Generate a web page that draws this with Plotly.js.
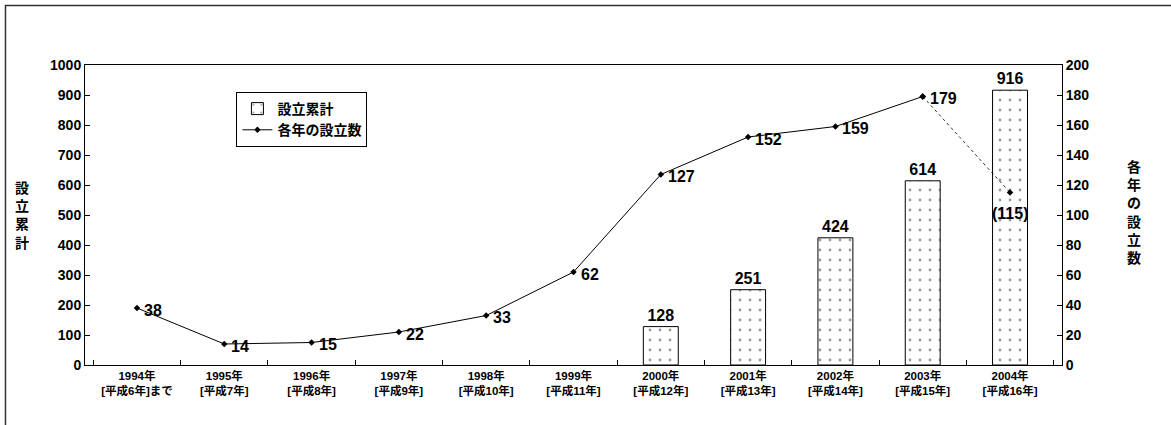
<!DOCTYPE html>
<html>
<head>
<meta charset="utf-8">
<script src="https://cdn.plot.ly/plotly-3.0.1.min.js"></script>
<style>html,body{margin:0;padding:0;background:#fff;}#chart{width:1171px;height:425px;}</style>
</head>
<body>
<div id="chart"></div>
<script>
const categories = [
  "1994年<br>[平成6年]まで", "1995年<br>[平成7年]", "1996年<br>[平成8年]", "1997年<br>[平成9年]",
  "1998年<br>[平成10年]", "1999年<br>[平成11年]", "2000年<br>[平成12年]", "2001年<br>[平成13年]",
  "2002年<br>[平成14年]", "2003年<br>[平成15年]", "2004年<br>[平成16年]"
];
const cumulative = [null, null, null, null, null, null, 128, 251, 424, 614, 916];
const yearly = [38, 14, 15, 22, 33, 62, 127, 152, 159, 179, 115];
const leftTicks = [0, 100, 200, 300, 400, 500, 600, 700, 800, 900, 1000];
const rightTicks = [0, 20, 40, 60, 80, 100, 120, 140, 160, 180, 200];
const provisionalIndex = 10; // 2004 value is provisional

const FONT = "'Liberation Sans', Arial, 'Noto Sans CJK JP', sans-serif";
const b = s => '<b>' + s + '</b>';

const solidY = yearly.map((v, i) => i < provisionalIndex ? v : null);
const dottedY = yearly.map((v, i) => i >= provisionalIndex - 1 ? v : null);

const traces = [
  {
    type: 'bar', name: b('設立累計'), x: categories, y: cumulative, yaxis: 'y',
    width: 0.4,
    marker: { color: '#ffffff', line: { color: '#000', width: 1 },
      pattern: { shape: '.', fgcolor: '#333', bgcolor: '#ffffff', size: 10, solidity: 0.06, fillmode: 'overlay' } },
    text: cumulative.map(v => v == null ? '' : b(v)),
    textposition: 'outside', cliponaxis: false,
    textfont: { family: FONT, size: 16, color: '#000', weight: 'bold' },
    hoverinfo: 'skip'
  },
  {
    type: 'scatter', mode: 'lines+markers', name: b('各年の設立数'), x: categories, y: solidY, yaxis: 'y2',
    line: { color: '#000', width: 1 },
    marker: { symbol: 'diamond', size: 5, color: '#000' },
    cliponaxis: false, connectgaps: false, hoverinfo: 'skip'
  },
  {
    type: 'scatter', mode: 'lines+markers', name: '見込', x: categories, y: dottedY, yaxis: 'y2',
    showlegend: false,
    line: { color: '#000', width: 0.8, dash: 'dot' },
    marker: { symbol: 'diamond', size: 5, color: '#000' },
    cliponaxis: false, hoverinfo: 'skip'
  }
];

const labelAnnotations = yearly.map((v, i) => i < provisionalIndex ? {
  xref: 'x', yref: 'y2', x: categories[i], y: v, xanchor: 'left', yanchor: 'middle',
  xshift: 5, yshift: -2, showarrow: false, text: b(v),
  font: { family: FONT, size: 16, color: '#000', weight: 'bold' }
} : {
  xref: 'x', yref: 'y2', x: categories[i], y: v, xanchor: 'center', yanchor: 'middle',
  xshift: 0, yshift: -21, showarrow: false, text: b('(' + v + ')'),
  font: { family: FONT, size: 16, color: '#000', weight: 'bold' }
});

const layout = {
  width: 1171, height: 425,
  margin: { l: 85, r: 109, t: 65, b: 60 },
  paper_bgcolor: '#fff', plot_bgcolor: '#fff',
  font: { family: FONT, color: '#000' },
  showlegend: true,
  legend: {
    x: 0.155, y: 0.91, xanchor: 'left', yanchor: 'top',
    bgcolor: '#fff', bordercolor: '#000', borderwidth: 1,
    font: { family: FONT, size: 14, color: '#000', weight: 'bold' },
    tracegroupgap: 0, itemwidth: 30
  },
  xaxis: {
    type: 'category', showline: true, linecolor: '#000', linewidth: 1, mirror: true,
    ticks: 'inside', tickson: 'boundaries', ticklen: 5, tickcolor: '#000',
    showgrid: false, zeroline: false,
    tickmode: 'array', tickvals: categories, ticktext: categories.map(b),
    tickfont: { family: FONT, size: 11.5, color: '#000', weight: 'bold' }
  },
  yaxis: {
    range: [0, 1000], showline: true, linecolor: '#000', linewidth: 1,
    tickmode: 'array', tickvals: leftTicks, ticktext: leftTicks.map(b),
    ticks: 'inside', ticklen: 5, tickcolor: '#000', showgrid: false, zeroline: false,
    tickfont: { family: FONT, size: 14, color: '#000', weight: 'bold' }
  },
  yaxis2: {
    range: [0, 200], overlaying: 'y', side: 'right', showline: true, linecolor: '#000', linewidth: 1,
    tickmode: 'array', tickvals: rightTicks, ticktext: rightTicks.map(b),
    ticks: 'inside', ticklen: 5, tickcolor: '#000', showgrid: false, zeroline: false,
    tickfont: { family: FONT, size: 14, color: '#000', weight: 'bold' }
  },
  annotations: labelAnnotations.concat([
    { xref: 'paper', yref: 'paper', x: -0.064, y: 0.5, xanchor: 'center', yanchor: 'middle', showarrow: false,
      text: b('設<br>立<br>累<br>計'), font: { family: FONT, size: 14, color: '#000', weight: 'bold' } },
    { xref: 'paper', yref: 'paper', x: 1.074, y: 0.51, xanchor: 'center', yanchor: 'middle', showarrow: false,
      text: b('各<br>年<br>の<br>設<br>立<br>数'), font: { family: FONT, size: 14, color: '#000', weight: 'bold' } }
  ]),
  shapes: [
    { type: 'rect', xref: 'paper', yref: 'paper', x0: -0.0814, x1: 1.14, y0: -0.25, y1: 1.198,
      line: { color: '#333', width: 1.5 }, fillcolor: 'rgba(0,0,0,0)', layer: 'below' }
  ]
};

Plotly.newPlot('chart', traces, layout, { staticPlot: true, displayModeBar: false });
</script>
</body>
</html>
